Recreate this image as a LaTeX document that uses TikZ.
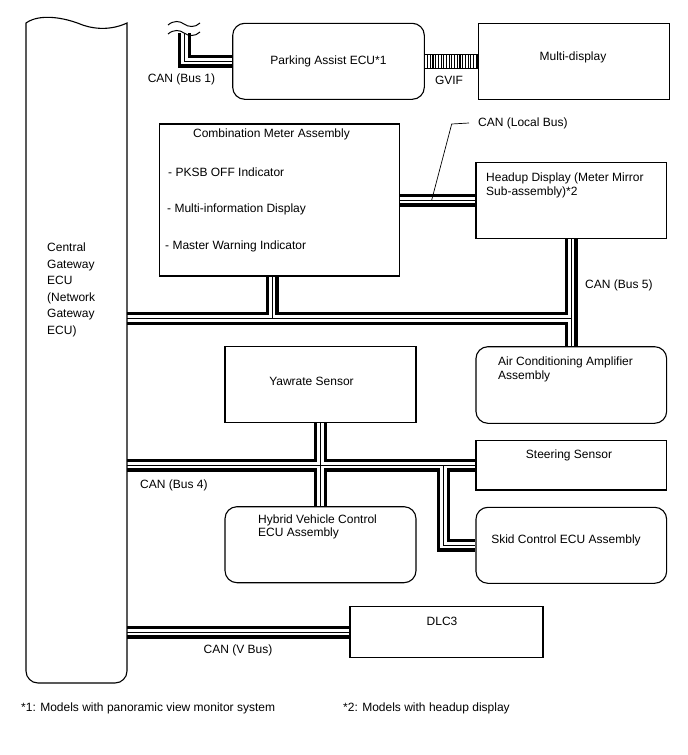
\documentclass[tikz,border=0pt]{standalone}
\usepackage{fontspec}
\setmainfont{Liberation Sans}
\usetikzlibrary{positioning}
\pgfdeclarelayer{bg}
\pgfsetlayers{bg,main}

\tikzset{
  box/.style={draw, line width=1.1pt, inner sep=0pt},
  rbox/.style={box, rounded corners=12pt},
  lbl/.style={inner sep=0pt, align=left},
}
% twisted pair: black outside, white gap, thin middle wire
\newcommand{\canbus}[1]{%
  \draw[line width=13pt] #1;
  \draw[white, line width=6.2pt] #1;
  \draw[line width=0.9pt] #1;}

\begin{document}
\begin{tikzpicture}[x=1pt, y=-1pt, font=\fontsize{12pt}{13.3pt}\selectfont]
  \useasboundingbox (0,0) rectangle (688,755);

  % central gateway, wavy top and round bottom
  \node[minimum width=101pt, minimum height=660pt, inner sep=0pt] (cgw) at (76.5,353) {};
  \draw[line width=1.1pt] (26,300) [rounded corners=12pt] -- (26,683) -- (127,683) -- (127,300)
      [sharp corners] -- (127,23) .. controls (112,30) and (95,30) .. (80,24)
      .. controls (65,18) and (40,13) .. (26,23) -- cycle;
  \node[lbl, font=\fontsize{12pt}{16.5pt}\selectfont, anchor=west] (cgwtxt) at (47,290)
      {Central\\Gateway\\ECU\\(Network\\Gateway\\ECU)};

  % top row
  \node[rbox, minimum width=191.6pt, minimum height=76pt] (pa) at (328.5,61.3) {Parking Assist ECU*1};
  \node[box, minimum width=190.7pt, minimum height=76pt] (md) at (573.7,61.3) {};
  \node[lbl] (mdtxt) at (573,57) {Multi-display};

  % combination meter
  \node[box, minimum width=240pt, minimum height=152pt] (meter) at (279.3,200) {};
  \node[lbl] (mtitle) at (271.5,134) {Combination Meter Assembly};
  \node[lbl, anchor=west] (m1) at (168,172) {- PKSB OFF Indicator};
  \node[lbl, anchor=west] (m2) at (167,209) {- Multi-information Display};
  \node[lbl, anchor=west] (m3) at (165,246) {- Master Warning Indicator};

  % right column
  \node[box, minimum width=190.7pt, minimum height=76pt] (hud) at (571.3,200.3) {};
  \node[lbl, anchor=west] (hudtxt) at (486,185.5) {Headup Display (Meter Mirror\\Sub-assembly)*2};
  \node[rbox, minimum width=190.7pt, minimum height=76.6pt] (ac) at (571.3,385) {};
  \node[lbl, anchor=west] (actxt) at (498,369.5) {Air Conditioning Amplifier\\Assembly};
  \node[box, minimum width=190.7pt, minimum height=49.3pt] (ss) at (571.3,465.3) {};
  \node[lbl] (sstxt) at (569,455) {Steering Sensor};
  \node[rbox, minimum width=190.7pt, minimum height=76pt] (skid) at (571.3,545.3) {};
  \node[lbl] (skidtxt) at (566,540.7) {Skid Control ECU Assembly};

  % middle column
  \node[box, minimum width=191pt, minimum height=76pt] (yaw) at (320.5,384.7) {};
  \node[lbl] (yawtxt) at (311.5,381) {Yawrate Sensor};
  \node[rbox, minimum width=191pt, minimum height=76pt] (hv) at (320.5,544.7) {};
  \node[lbl, anchor=west] (hvtxt) at (258,527) {Hybrid Vehicle Control\\ECU Assembly};
  \node[box, minimum width=193pt, minimum height=50.6pt] (dlc) at (446.5,632) {};
  \node[lbl] (dlctxt) at (442,621.7) {DLC3};

  % bus junctions
  \coordinate (b1top) at (184.5,33);
  \coordinate (jm) at (272,318.5);
  \coordinate (jsk) at (443.5,0);
  \coordinate (lb) at (431.7,200);

  \begin{pgfonlayer}{bg}
    \fill[white] (0,0) rectangle (688,755);
    \canbus{(pa.west) -- (pa.west -| b1top) -- (b1top)
      (meter.east) -- (meter.east -| hud.west)
      (cgw.east |- jm) -- (jm -| hud.south)
      (jm |- meter.south) -- (jm)
      (hud.south) -- (ac.north)
      (cgw.east |- ss.west) -- (ss.west)
      (yaw.south) -- (hv.north)
      (jsk |- ss.west) -- (jsk |- skid.west) -- (skid.west)
      (cgw.east |- dlc.west) -- (dlc.west)}
  \end{pgfonlayer}

  % cut mark on bus 1
  \foreach \dy in {0,9}{
    \draw[line width=1pt] (168,25+\dy) .. controls (174,20+\dy) and (180,21+\dy) .. (184,24+\dy)
        .. controls (188,27+\dy) and (195,28+\dy) .. (200,23+\dy);
  }

  % GVIF link
  \draw[line width=0.8pt] ([yshift=7pt]pa.east) rectangle ([yshift=-7pt]md.west);
  \foreach \i in {1,...,19}{
    \draw[line width=1.1pt] ([xshift=\i*2.7pt, yshift=7pt]pa.east) -- ++(0,14);
  }

  % labels
  \node[lbl] (b1lbl) at (181.5,79) {CAN (Bus 1)};
  \node[lbl] (gvif) at (449,80) {GVIF};
  \node[lbl, anchor=west] (lblocal) at (478,123) {CAN (Local Bus)};
  \draw[line width=0.7pt] (lb) -- (451.7,124) -- ([xshift=-9pt]lblocal.west);
  \node[lbl, anchor=west] (b5lbl) at (585,285) {CAN (Bus 5)};
  \node[lbl, anchor=west] (b4lbl) at (140,485) {CAN (Bus 4)};
  \node[lbl] (vlbl) at (238,650.7) {CAN (V Bus)};

  % notes
  \node[lbl, anchor=west] (note1) at (21,708) {*1: Models with panoramic view monitor system};
  \node[lbl, anchor=west] (note2) at (343,708) {*2: Models with headup display};
\end{tikzpicture}
\end{document}
